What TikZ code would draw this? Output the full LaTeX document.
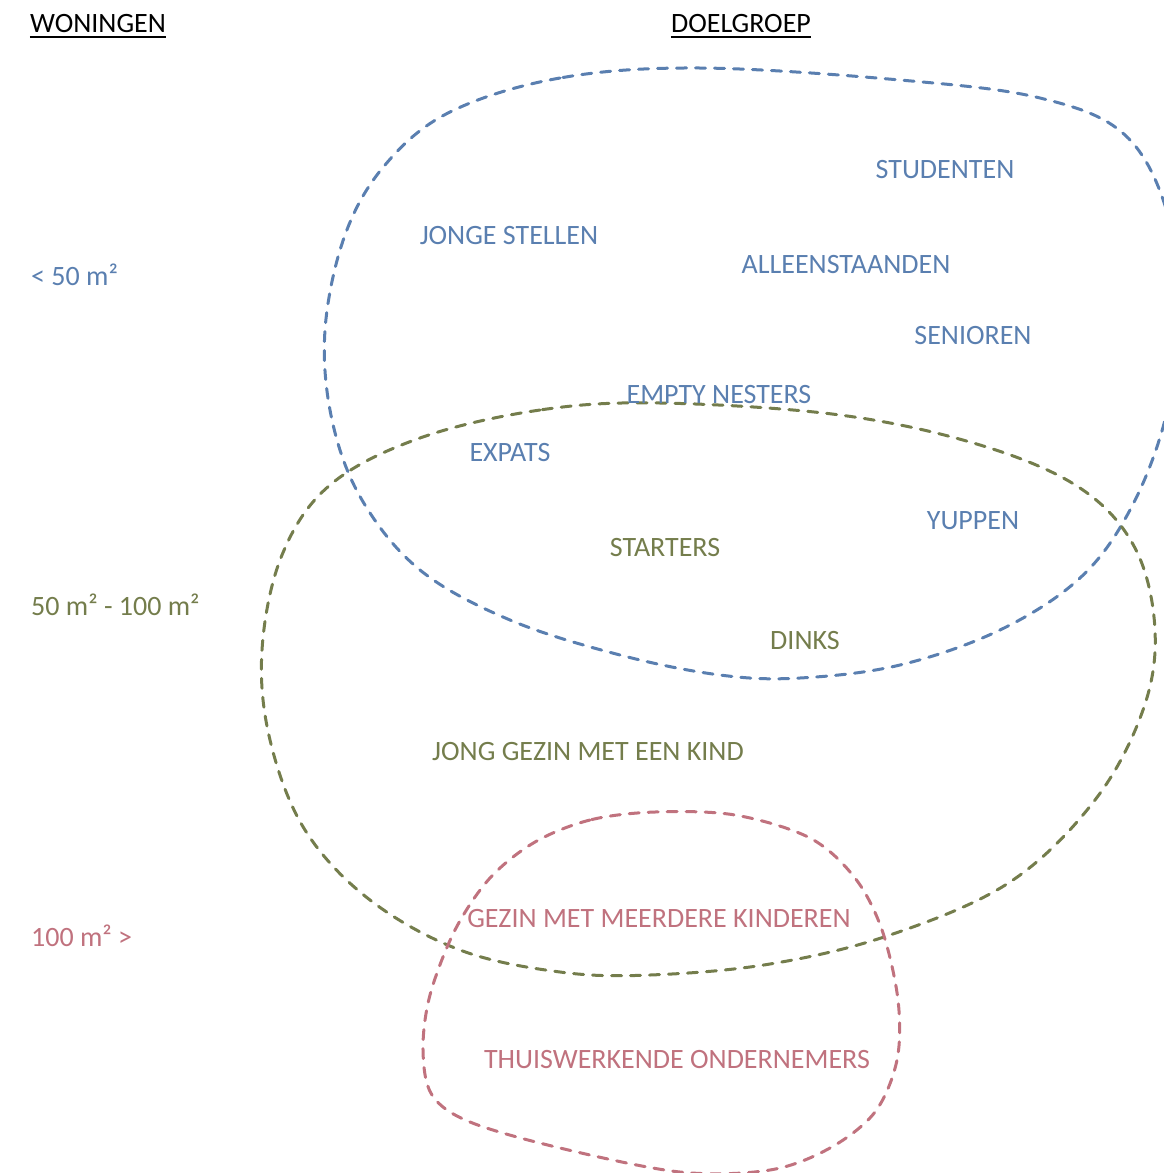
\documentclass[tikz,border=0pt]{standalone}
\usepackage{fontspec}
\setmainfont{Carlito}
\definecolor{cblue}{HTML}{5A7FB0}
\definecolor{colive}{HTML}{747D4C}
\definecolor{cpink}{HTML}{C0727E}
\begin{document}
\begin{tikzpicture}[x=1pt,y=-1pt,
  lbl/.style={font=\fontsize{28}{33}\selectfont, inner sep=0pt, anchor=center},
  lleft/.style={lbl, anchor=west},
  ring/.style={line width=3pt, dash pattern=on 10pt off 9pt, line cap=round},
  head/.style={lbl, text=black}]
\useasboundingbox (0,0) rectangle (1164,1173);
\clip (0,0) rectangle (1164,1173);
% blue shape
\draw[ring, cblue] plot[smooth cycle, tension=0.6] coordinates {
  (700,68) (560,78) (450,112) (385,165) (345,235) (325,330) (332,420) (362,500)
  (420,570) (510,620) (620,655) (720,675) (800,678) (900,665) (1000,630)
  (1080,578) (1130,510) (1165,420) (1180,320) (1168,215) (1125,135)
  (1040,98) (900,80)};
% olive shape
\draw[ring, colive] plot[smooth cycle, tension=0.6] coordinates {
  (660,403) (540,410) (420,438) (330,485) (282,555) (262,650) (270,740)
  (305,830) (370,900) (460,950) (560,972) (650,975) (770,964) (890,935)
  (1010,882) (1095,800) (1143,710) (1155,630) (1135,548) (1080,488)
  (980,445) (840,415)};
% pink shape
\draw[ring, cpink] plot[smooth cycle, tension=0.55] coordinates {
  (655,812) (590,820) (535,842) (490,878) (455,930) (430,995) (423,1050)
  (432,1095) (470,1122) (560,1148) (680,1172) (770,1170) (830,1148) (875,1112)
  (897,1060) (898,1000) (882,930) (855,878) (810,838) (735,815)};
% headings
\node[head] (won) at (98,24) {WONINGEN};
\node[head] (doel) at (741,24) {DOELGROEP};
\draw[line width=2pt] ([yshift=-4pt]won.south west) -- ([yshift=-4pt]won.south east);
\draw[line width=2pt] ([yshift=-4pt]doel.south west) -- ([yshift=-4pt]doel.south east);
% size labels
\node[lleft, text=cblue] (s1) at (31,275) {< 50 m²};
\node[lleft, text=colive] (s2) at (31,605) {50 m² - 100 m²};
\node[lleft, text=cpink] (s3) at (31,936) {100 m² >};
% groups
\node[lbl, text=cblue] (stud) at (945,170) {STUDENTEN};
\node[lbl, text=cblue] (jong) at (509,236) {JONGE STELLEN};
\node[lbl, text=cblue] (allee) at (846,265) {ALLEENSTAANDEN};
\node[lbl, text=cblue] (sen) at (973,336) {SENIOREN};
\node[lbl, text=cblue] (empty) at (719,395) {EMPTY NESTERS};
\node[lbl, text=cblue] (exp) at (510,453) {EXPATS};
\node[lbl, text=cblue] (yup) at (973,521) {YUPPEN};
\node[lbl, text=colive] (start) at (665,548) {STARTERS};
\node[lbl, text=colive] (dinks) at (805,641) {DINKS};
\node[lbl, text=colive] (gez1) at (588,752) {JONG GEZIN MET EEN KIND};
\node[lbl, text=cpink] (gez2) at (659,918) {GEZIN MET MEERDERE KINDEREN};
\node[lbl, text=cpink] (thuis) at (677,1060) {THUISWERKENDE ONDERNEMERS};
\end{tikzpicture}
\end{document}
